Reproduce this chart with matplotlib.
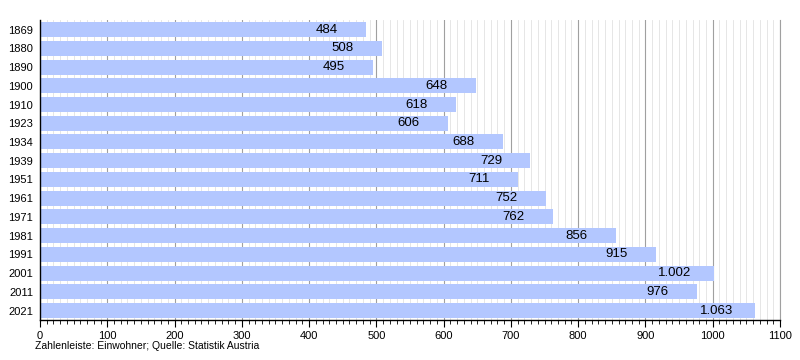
import matplotlib.pyplot as plt
import numpy as np
from matplotlib.ticker import MultipleLocator

plt.rcParams['font.family'] = ['Liberation Sans', 'DejaVu Sans']

years = ['1869', '1880', '1890', '1900', '1910', '1923', '1934', '1939',
         '1951', '1961', '1971', '1981', '1991', '2001', '2011', '2021']
population = [484, 508, 495, 648, 618, 606, 688, 729,
              711, 752, 762, 856, 915, 1002, 976, 1063]


def fmt(v):
    # german thousands separator
    return f"{v:,}".replace(',', '.')


fig = plt.figure(figsize=(8, 3.6), dpi=100)
ax = fig.add_axes([0.05, 0.111, 0.925, 0.833])

y = np.arange(len(years))
ax.barh(y, population, height=0.8, color='#b3c7ff', zorder=2)

for yi, v in zip(y, population):
    ax.text(v - 58, yi, fmt(v), ha='center', va='center', fontsize=9.5, zorder=3)

ax.set_xlim(0, 1100)
ax.set_ylim(len(years) - 0.5, -0.5)
ax.set_yticks(y)
ax.set_yticklabels(years, fontsize=8)
ax.tick_params(axis='y', length=0, pad=5)

ax.xaxis.set_major_locator(MultipleLocator(100))
ax.xaxis.set_minor_locator(MultipleLocator(10))
ax.tick_params(axis='x', which='major', length=5, width=0.8, labelsize=8, pad=3)
ax.tick_params(axis='x', which='minor', length=3, width=0.6)
ax.grid(axis='x', which='major', color='#a0a0a0', linewidth=0.8, zorder=0)
ax.grid(axis='x', which='minor', color='#e2e2e2', linewidth=0.6, zorder=0)
ax.axvline(1100, color='#a0a0a0', linewidth=0.8, zorder=0, clip_on=False)
ax.set_axisbelow(True)

for s in ['top', 'right']:
    ax.spines[s].set_visible(False)
ax.spines['left'].set_linewidth(1.0)
ax.spines['bottom'].set_linewidth(1.0)

fig.text(0.044, 0.03, 'Zahlenleiste: Einwohner; Quelle: Statistik Austria', fontsize=7.5)

fig.savefig('out.png', dpi=100)
